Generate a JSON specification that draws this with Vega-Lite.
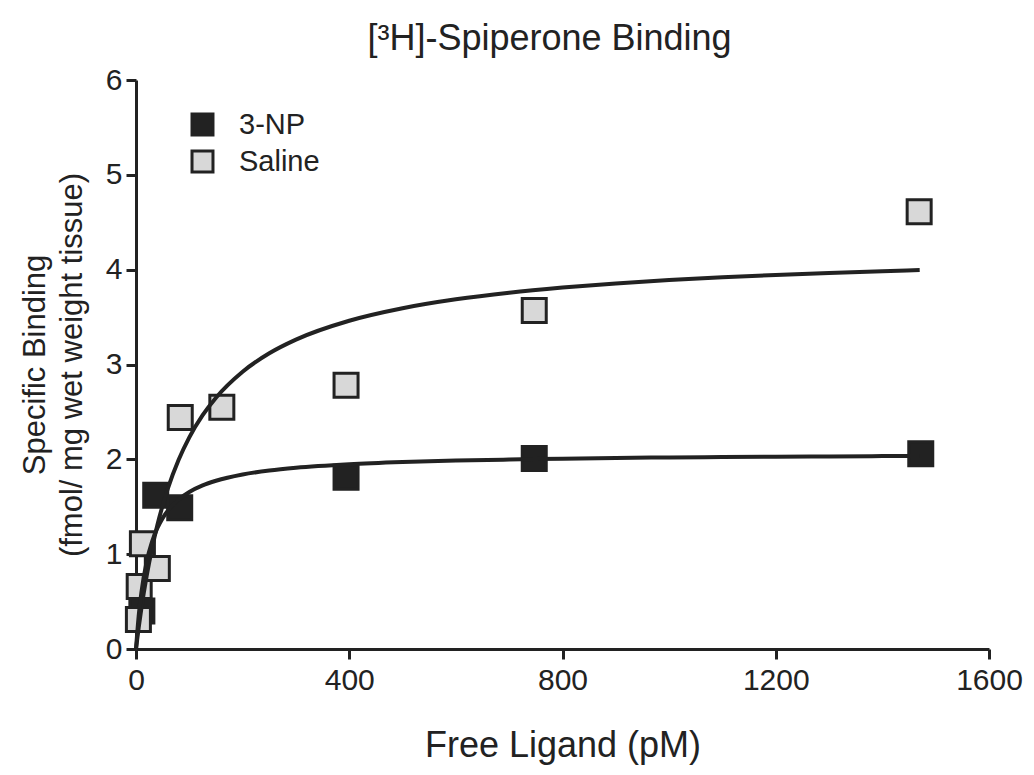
{
  "$schema": "https://vega.github.io/schema/vega-lite/v6.json",
  "width": 853,
  "height": 569,
  "autosize": {"type": "none"},
  "padding": {"left": 136, "top": 80, "right": 45, "bottom": 126},
  "background": "white",
  "title": {"text": "[³H]-Spiperone Binding", "font": "Liberation Sans", "fontSize": 36, "fontWeight": "normal", "color": "#222222", "offset": 7, "dx": -13},
  "config": {"view": {"stroke": null}},
  "datasets": {
    "points": [
      {"group": "3-NP", "x": 11, "y": 0.40},
      {"group": "3-NP", "x": 37, "y": 1.62},
      {"group": "3-NP", "x": 82, "y": 1.49},
      {"group": "3-NP", "x": 394, "y": 1.81},
      {"group": "3-NP", "x": 747, "y": 2.01},
      {"group": "3-NP", "x": 1472, "y": 2.06},
      {"group": "Saline", "x": 4.5, "y": 0.31},
      {"group": "Saline", "x": 6, "y": 0.66},
      {"group": "Saline", "x": 12, "y": 1.11},
      {"group": "Saline", "x": 40, "y": 0.85},
      {"group": "Saline", "x": 83, "y": 2.44},
      {"group": "Saline", "x": 161, "y": 2.55},
      {"group": "Saline", "x": 394, "y": 2.78},
      {"group": "Saline", "x": 747, "y": 3.57},
      {"group": "Saline", "x": 1469, "y": 4.61}
    ],
    "curves": [
      {"group": "Saline", "x": 0, "y": 0},
      {"group": "Saline", "x": 5, "y": 0.223},
      {"group": "Saline", "x": 10, "y": 0.424},
      {"group": "Saline", "x": 20, "y": 0.771},
      {"group": "Saline", "x": 30, "y": 1.06},
      {"group": "Saline", "x": 40, "y": 1.305},
      {"group": "Saline", "x": 50, "y": 1.514},
      {"group": "Saline", "x": 60, "y": 1.696},
      {"group": "Saline", "x": 80, "y": 1.995},
      {"group": "Saline", "x": 100, "y": 2.232},
      {"group": "Saline", "x": 125, "y": 2.465},
      {"group": "Saline", "x": 150, "y": 2.65},
      {"group": "Saline", "x": 200, "y": 2.924},
      {"group": "Saline", "x": 250, "y": 3.118},
      {"group": "Saline", "x": 300, "y": 3.262},
      {"group": "Saline", "x": 400, "y": 3.461},
      {"group": "Saline", "x": 500, "y": 3.593},
      {"group": "Saline", "x": 600, "y": 3.687},
      {"group": "Saline", "x": 700, "y": 3.757},
      {"group": "Saline", "x": 800, "y": 3.811},
      {"group": "Saline", "x": 900, "y": 3.855},
      {"group": "Saline", "x": 1000, "y": 3.89},
      {"group": "Saline", "x": 1100, "y": 3.919},
      {"group": "Saline", "x": 1200, "y": 3.944},
      {"group": "Saline", "x": 1300, "y": 3.965},
      {"group": "Saline", "x": 1400, "y": 3.984},
      {"group": "Saline", "x": 1470, "y": 3.996},
      {"group": "3-NP", "x": 0, "y": 0},
      {"group": "3-NP", "x": 5, "y": 0.345},
      {"group": "3-NP", "x": 10, "y": 0.591},
      {"group": "3-NP", "x": 20, "y": 0.92},
      {"group": "3-NP", "x": 30, "y": 1.129},
      {"group": "3-NP", "x": 40, "y": 1.274},
      {"group": "3-NP", "x": 50, "y": 1.38},
      {"group": "3-NP", "x": 60, "y": 1.461},
      {"group": "3-NP", "x": 80, "y": 1.577},
      {"group": "3-NP", "x": 100, "y": 1.656},
      {"group": "3-NP", "x": 125, "y": 1.725},
      {"group": "3-NP", "x": 150, "y": 1.774},
      {"group": "3-NP", "x": 200, "y": 1.84},
      {"group": "3-NP", "x": 250, "y": 1.882},
      {"group": "3-NP", "x": 300, "y": 1.911},
      {"group": "3-NP", "x": 400, "y": 1.948},
      {"group": "3-NP", "x": 500, "y": 1.971},
      {"group": "3-NP", "x": 600, "y": 1.987},
      {"group": "3-NP", "x": 700, "y": 1.998},
      {"group": "3-NP", "x": 800, "y": 2.007},
      {"group": "3-NP", "x": 900, "y": 2.014},
      {"group": "3-NP", "x": 1000, "y": 2.02},
      {"group": "3-NP", "x": 1100, "y": 2.024},
      {"group": "3-NP", "x": 1200, "y": 2.028},
      {"group": "3-NP", "x": 1300, "y": 2.031},
      {"group": "3-NP", "x": 1400, "y": 2.034},
      {"group": "3-NP", "x": 1470, "y": 2.035}
    ]
  },
  "layer": [
    {
      "data": {"name": "points"},
      "mark": {"type": "point", "shape": "square", "filled": true, "size": 576, "stroke": "#222222", "strokeWidth": 3, "opacity": 1},
      "encoding": {
        "x": {
          "field": "x", "type": "quantitative",
          "scale": {"domain": [0, 1600], "nice": false, "zero": false},
          "axis": {
            "values": [0, 400, 800, 1200, 1600], "format": "d",
            "title": "Free Ligand (pM)",
            "titleFont": "Liberation Sans", "titleFontSize": 36, "titleFontWeight": "normal", "titleColor": "#222222", "titlePadding": 33,
            "labelFont": "Liberation Sans", "labelFontSize": 30, "labelColor": "#222222", "labelPadding": 6,
            "domainColor": "#222222", "domainWidth": 3, "tickColor": "#222222", "tickWidth": 3, "tickSize": 10,
            "grid": false, "labelFlush": false, "labelOverlap": false
          }
        },
        "y": {
          "field": "y", "type": "quantitative",
          "scale": {"domain": [0, 6], "nice": false},
          "axis": {
            "values": [0, 1, 2, 3, 4, 5, 6], "format": "d",
            "title": ["Specific Binding", "(fmol/ mg wet weight tissue)"],
            "titleFont": "Liberation Sans", "titleFontSize": 31, "titleFontWeight": "normal", "titleColor": "#222222", "titlePadding": 17, "titleLineHeight": 37,
            "labelFont": "Liberation Sans", "labelFontSize": 30, "labelColor": "#222222", "labelPadding": 4,
            "domainColor": "#222222", "domainWidth": 3, "tickColor": "#222222", "tickWidth": 3, "tickSize": 10,
            "grid": false, "labelFlush": false, "labelOverlap": false
          }
        },
        "fill": {
          "field": "group", "type": "nominal",
          "scale": {"domain": ["3-NP", "Saline"], "range": ["#222222", "#d8d8d8"]},
          "legend": {
            "title": null, "orient": "none", "legendX": 52, "legendY": 30, "padding": 0,
            "symbolType": "square", "symbolSize": 440, "symbolStrokeColor": "#222222", "symbolStrokeWidth": 3, "symbolOpacity": 1,
            "labelFont": "Liberation Sans", "labelFontSize": 29, "labelColor": "#222222", "labelOffset": 22, "rowPadding": 4
          }
        }
      }
    },
    {
      "data": {"name": "curves"},
      "mark": {"type": "line", "color": "#222222", "strokeWidth": 4, "interpolate": "monotone"},
      "encoding": {
        "x": {"field": "x", "type": "quantitative"},
        "y": {"field": "y", "type": "quantitative"},
        "detail": {"field": "group", "type": "nominal"}
      }
    }
  ]
}
